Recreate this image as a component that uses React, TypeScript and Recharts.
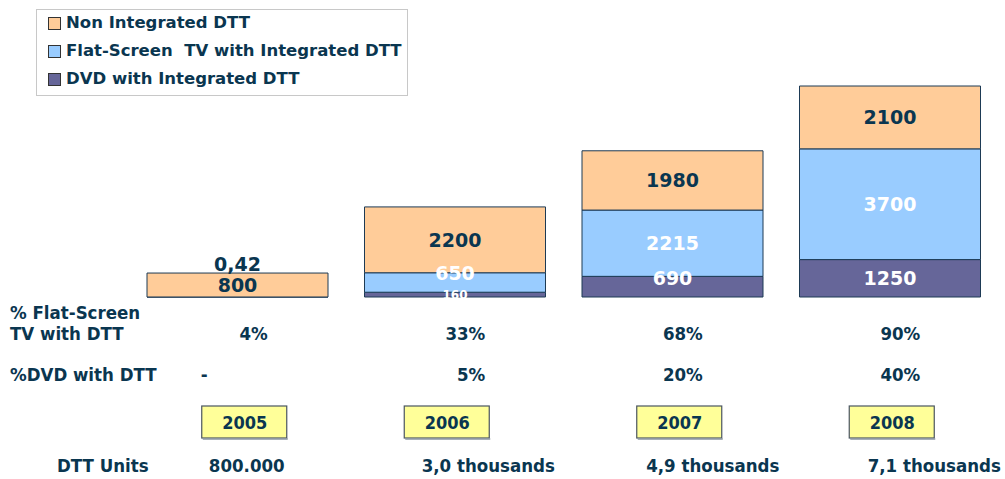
import React from 'react';
import { BarChart, Bar, XAxis, YAxis, LabelList } from 'recharts';

const years = ['2005', '2006', '2007', '2008'];
const nonIntegrated = [800, 2200, 1980, 2100];
const flatScreen = [0.42, 650, 2215, 3700];
const dvd = [0, 160, 690, 1250];
const flatShare = ['4%', '33%', '68%', '90%'];
const dvdShare = ['-', '5%', '20%', '40%'];
const dttUnits = ['800.000', '3,0 thousands', '4,9 thousands', '7,1 thousands'];

const data = years.map((year, i) => ({
  year,
  non: nonIntegrated[i],
  flat: flatScreen[i],
  dvd: dvd[i],
}));

const NAVY = '#0a3650';
const BAR_FONT = '"DejaVu Sans", Verdana, sans-serif';
const ROW_FONT = '"DejaVu Sans Condensed", "DejaVu Sans", sans-serif';

const COLORS = {
  non: '#FFCC99',
  flat: '#99CCFF',
  dvd: '#666699',
};

// small per-column nudges to match the hand placed text boxes of the slide
const yearBoxDx = [7, -8, 7, 2];
const unitsDx = [9, 33, 40, 44];

const fmt = (v: number) => String(v).replace('.', ',');

const SegmentLabel = ({ x, y, width, height, value, color }: any) => {
  if (!value || height < 3) return null;
  const cx = x + width / 2;
  let cy = y + height / 2;
  let size = 19;
  if (height < 10) {
    size = 12;
  } else if (height < 22) {
    cy -= 9;
  }
  return (
    <text
      x={cx}
      y={cy}
      dy="0.36em"
      textAnchor="middle"
      fill={color}
      fontFamily={BAR_FONT}
      fontWeight="bold"
      fontSize={size}
    >
      {fmt(value)}
    </text>
  );
};

// a flat-screen value too small to show as a segment is written above the stack
const TinyValueLabel = ({ x, y, width, value }: any) => {
  if (!value || value >= 1) return null;
  return (
    <text
      x={x + width / 2}
      y={y - 9}
      dy="0.36em"
      textAnchor="middle"
      fill={NAVY}
      fontFamily={BAR_FONT}
      fontWeight="bold"
      fontSize={19}
    >
      {fmt(value)}
    </text>
  );
};

const rowText = {
  fill: NAVY,
  fontFamily: ROW_FONT,
  fontWeight: 'bold' as const,
  fontSize: 18.5,
};

const ColumnTick = (props: any) => {
  const { x, y, index } = props;
  return (
    <g>
      {index === 0 && (
        <g>
          <text x={10} y={y + 22} {...rowText}>% Flat-Screen</text>
          <text x={10} y={y + 43} {...rowText}>TV with DTT</text>
          <text x={10} y={y + 84} {...rowText}>%DVD with DTT</text>
          <text x={57} y={y + 175} {...rowText}>DTT Units</text>
        </g>
      )}
      <text x={x + 30} y={y + 43} textAnchor="end" {...rowText}>{flatShare[index]}</text>
      {dvdShare[index] === '-' ? (
        <text x={x - 37} y={y + 84} {...rowText}>-</text>
      ) : (
        <text x={x + 30} y={y + 84} textAnchor="end" {...rowText}>{dvdShare[index]}</text>
      )}
      <rect
        x={x + yearBoxDx[index] - 43}
        y={y + 109}
        width={85}
        height={32}
        fill="#FFFF99"
        stroke="#4a5560"
        strokeWidth={1.2}
      />
      <line
        x1={x + yearBoxDx[index] - 42}
        x2={x + yearBoxDx[index] + 43}
        y1={y + 142}
        y2={y + 142}
        stroke="#8a96a0"
        strokeWidth={1.5}
      />
      <text
        x={x + yearBoxDx[index]}
        y={y + 132}
        textAnchor="middle"
        {...rowText}
        fontSize={18}
      >
        {years[index]}
      </text>
      <text x={x + unitsDx[index]} y={y + 175} textAnchor="middle" {...rowText}>
        {dttUnits[index]}
      </text>
    </g>
  );
};

const legendItems = [
  { key: 'non', label: 'Non Integrated DTT' },
  { key: 'flat', label: 'Flat-Screen  TV with Integrated DTT' },
  { key: 'dvd', label: 'DVD with Integrated DTT' },
];

const App = () => {
  return (
    <div style={{ position: 'absolute', left: 0, top: 0, width: 1005, height: 479, background: '#fff' }}>
      <BarChart
        width={1005}
        height={479}
        data={data}
        margin={{ top: 86, right: 6, left: 129, bottom: 0 }}
        barSize={181}
      >
        <XAxis
          dataKey="year"
          height={182}
          axisLine={false}
          tickLine={false}
          tickSize={0}
          tickMargin={0}
          interval={0}
          tick={<ColumnTick />}
        />
        <YAxis hide domain={[0, 'dataMax']} />
        <Bar dataKey="dvd" stackId="a" fill={COLORS.dvd} stroke="#1d3a55" strokeWidth={1} isAnimationActive={false}>
          <LabelList dataKey="dvd" content={(p: any) => <SegmentLabel {...p} color="#ffffff" />} />
        </Bar>
        <Bar dataKey="flat" stackId="a" fill={COLORS.flat} stroke="#1d3a55" strokeWidth={1} isAnimationActive={false}>
          <LabelList dataKey="flat" content={(p: any) => <SegmentLabel {...p} color="#ffffff" />} />
        </Bar>
        <Bar dataKey="non" stackId="a" fill={COLORS.non} stroke="#1d3a55" strokeWidth={1} isAnimationActive={false}>
          <LabelList dataKey="non" content={(p: any) => <SegmentLabel {...p} color={NAVY} />} />
          <LabelList dataKey="flat" content={(p: any) => <TinyValueLabel {...p} />} />
        </Bar>
      </BarChart>

      {/* Legend */}
      <div
        style={{
          position: 'absolute',
          left: 36,
          top: 9,
          width: 370,
          height: 85,
          border: '1px solid #c8c8c8',
          background: '#fff',
          fontFamily: BAR_FONT,
          fontWeight: 'bold',
          fontSize: 16.5,
          color: NAVY,
        }}
      >
        {legendItems.map((item, i) => (
          <div
            key={item.key}
            style={{
              position: 'absolute',
              left: 11,
              top: 0 + i * 28,
              height: 24,
              display: 'flex',
              alignItems: 'center',
              whiteSpace: 'pre',
            }}
          >
            <div
              style={{
                width: 11,
                height: 11,
                marginTop: 3,
                marginRight: 5,
                background: COLORS[item.key as keyof typeof COLORS],
                border: '1px solid #333',
              }}
            />
            <span>{item.label}</span>
          </div>
        ))}
      </div>
    </div>
  );
};

export default App;
